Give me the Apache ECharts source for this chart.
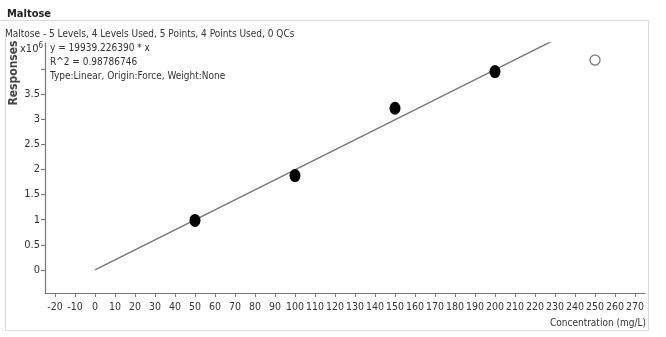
<!DOCTYPE html>
<html>
<head>
<meta charset="utf-8">
<script src="https://cdn.jsdelivr.net/npm/echarts@6/dist/echarts.min.js"></script>
<style>
html,body{margin:0;padding:0;background:#fff;}
#c{width:666px;height:337px;}
</style>
</head>
<body>
<div id="c"></div>
<script>
const usedConc = [50, 100, 150, 200];
const usedResp = [986000, 1880000, 3220000, 3950000];
const excludedConc = [250];
const excludedResp = [4180000];
const slope = 19939.226390;
const fitX = [0, 230];
const xTicks = [-20,-10,0,10,20,30,40,50,60,70,80,90,100,110,120,130,140,150,160,170,180,190,200,210,220,230,240,250,260,270];
const yTicks = [0, 500000, 1000000, 1500000, 2000000, 2500000, 3000000, 3500000, 4000000];
const yLabels = [0, 500000, 1000000, 1500000, 2000000, 2500000, 3000000, 3500000];

const F = '"DejaVu Sans Condensed", "Liberation Sans Narrow", "Liberation Sans", Arial, sans-serif';
const chart = echarts.init(document.getElementById('c'), null, {renderer: 'canvas'});
chart.setOption({
  animation: false,
  backgroundColor: '#fff',
  grid: {left: 45, right: 21, top: 43, bottom: 44, containLabel: false},
  title: [
    {text: 'Maltose', left: 2, top: 4, textStyle: {fontFamily: F, fontSize: 11, fontWeight: 'bold', color: '#222'}},
    {text: 'Maltose - 5 Levels, 4 Levels Used, 5 Points, 4 Points Used, 0 QCs', left: 0, top: 24, textStyle: {fontFamily: F, fontSize: 10, fontWeight: 'normal', color: '#333'}},
    {text: 'y = 19939.226390 * x\nR^2 = 0.98786746\nType:Linear, Origin:Force, Weight:None', left: 45, top: 36, textStyle: {fontFamily: F, fontSize: 10, fontWeight: 'normal', color: '#333', lineHeight: 14}},
    {text: 'Concentration (mg/L)', right: 15, top: 313, textStyle: {fontFamily: F, fontSize: 10, fontWeight: 'normal', color: '#333'}}
  ],
  graphic: [
    {type: 'polyline', shape: {points: [[0, 20.5], [648.5, 20.5], [648.5, 330.5], [5.5, 330.5], [5.5, 38]]}, style: {stroke: '#d9d9d9', lineWidth: 1, fill: null}, silent: true},
    {type: 'text', x: 14, y: 73, rotation: Math.PI / 2, style: {text: 'Responses', fontFamily: F, fontSize: 12, fontWeight: 'bold', fill: '#444', align: 'center', verticalAlign: 'middle'}},
    {type: 'text', x: 20, y: 42, style: {rich: {a: {fontFamily: F, fontSize: 11, fill: '#333'}, s: {fontFamily: F, fontSize: 8, fill: '#333', verticalAlign: 'top', padding: [0,0,6,0]}}, text: '{a|x10}{s|6}'}}
  ],
  xAxis: {
    type: 'value', min: -25, max: 275,
    splitLine: {show: false},
    axisLine: {show: true, onZero: false, lineStyle: {color: '#777', width: 1.2}},
    axisTick: {show: true, customValues: xTicks, length: 4, lineStyle: {color: '#777'}},
    axisLabel: {customValues: xTicks, fontFamily: F, fontSize: 10.5, color: '#333', margin: 9, hideOverlap: false},
    z: 1
  },
  yAxis: {
    type: 'value', min: -460000, max: 4520000,
    splitLine: {show: false},
    axisLine: {show: true, onZero: false, lineStyle: {color: '#777', width: 1.2}},
    axisTick: {show: true, customValues: yTicks, length: 4, lineStyle: {color: '#777'}},
    axisLabel: {customValues: yLabels, fontFamily: F, fontSize: 11, color: '#333', margin: 5, formatter: v => String(v / 1000000)}
  },
  series: [
    {type: 'line', data: fitX.map(x => [x, slope * x]), symbol: 'none', lineStyle: {color: '#777', width: 1.4}, z: 2},
    {type: 'scatter', data: usedConc.map((x, i) => [x, usedResp[i]]), symbol: 'circle', symbolSize: [11, 13], itemStyle: {color: '#000', opacity: 1}, z: 3},
    {type: 'scatter', data: excludedConc.map((x, i) => [x, excludedResp[i]]), symbol: 'circle', symbolSize: 10, itemStyle: {color: '#fff', borderColor: '#888', borderWidth: 1.5, opacity: 1}, z: 3}
  ]
});
</script>
</body>
</html>
